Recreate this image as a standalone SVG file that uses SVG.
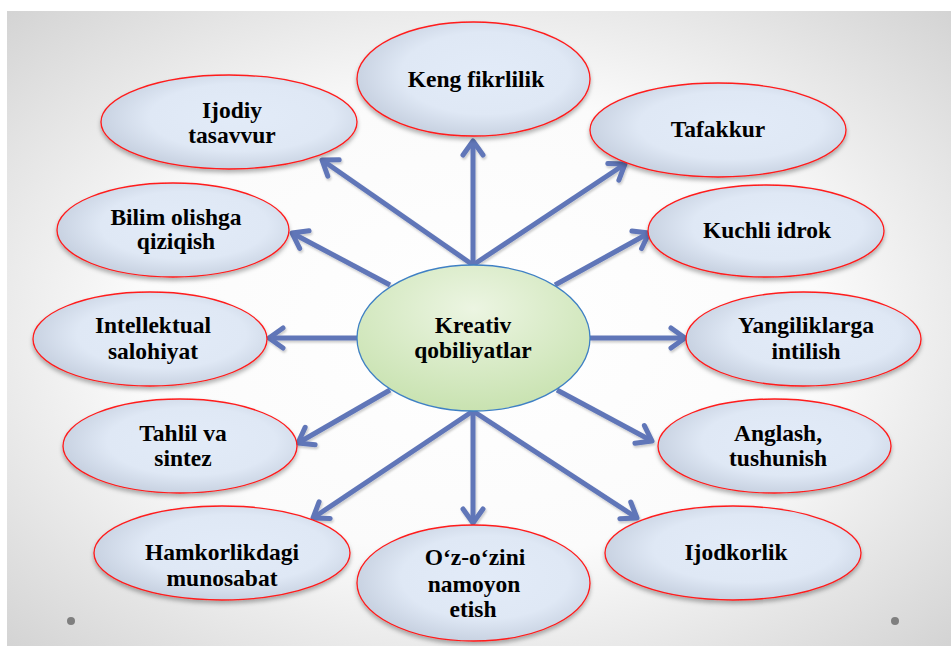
<svg xmlns="http://www.w3.org/2000/svg" width="951" height="646" viewBox="0 0 951 646">
<defs>
<radialGradient id="bg" cx="0.5" cy="0.5" r="0.72">
<stop offset="0" stop-color="#ffffff"/>
<stop offset="0.5" stop-color="#fbfbfb"/>
<stop offset="1" stop-color="#d2d2d2"/>
</radialGradient>
<radialGradient id="nodeFill" cx="0.55" cy="0.45" r="0.6">
<stop offset="0" stop-color="#e2ebf8"/>
<stop offset="0.6" stop-color="#dfe8f5"/>
<stop offset="1" stop-color="#c3cddd"/>
</radialGradient>
<radialGradient id="centerFill" cx="0.5" cy="0.3" r="0.75">
<stop offset="0" stop-color="#ecf5e2"/>
<stop offset="1" stop-color="#c6e1ad"/>
</radialGradient>
<filter id="shadow" x="-10%" y="-10%" width="120%" height="130%">
<feDropShadow dx="0" dy="3" stdDeviation="2" flood-color="#000" flood-opacity="0.3"/>
</filter>
<filter id="lshadow" x="-10%" y="-10%" width="120%" height="120%">
<feDropShadow dx="1" dy="2" stdDeviation="1.2" flood-color="#000" flood-opacity="0.2"/>
</filter>
<marker id="arrow" markerUnits="userSpaceOnUse" markerWidth="40" markerHeight="40" refX="0" refY="0" viewBox="-20 -20 40 40" orient="auto">
<path d="M -14 -10 L 0 0 L -14 10" fill="none" stroke="#6076b8" stroke-width="5" stroke-linecap="round" stroke-linejoin="round"/>
</marker>
</defs>
<style>
.node ellipse { fill: url(#nodeFill); stroke: #ff1a1a; stroke-width: 1.3; filter: url(#shadow); }
.center ellipse { fill: url(#centerFill); stroke: #3f80c4; stroke-width: 1.3; }
.t { font-weight: bold; font-size: 23.5px; fill: #000; text-anchor: middle; }
.conn line { stroke: #6076b8; stroke-width: 5; marker-end: url(#arrow); }
</style>
<rect x="0" y="0" width="951" height="646" fill="#ffffff"/>
<rect x="7" y="11" width="944" height="635" fill="url(#bg)"/>
<circle cx="71" cy="621" r="4" fill="#7f7f7f"/>
<circle cx="895" cy="621" r="4" fill="#7f7f7f"/>

<g id="connectors" class="conn" filter="url(#lshadow)">
<line x1="473" y1="265" x2="473" y2="141"/>
<line x1="473" y1="265" x2="625" y2="164"/>
<line x1="473" y1="265" x2="322" y2="160"/>
<line x1="390" y1="285" x2="292" y2="233"/>
<line x1="555" y1="285" x2="649" y2="233"/>
<line x1="357" y1="338" x2="269" y2="338"/>
<line x1="590" y1="338" x2="685" y2="338"/>
<line x1="390" y1="390" x2="298" y2="443"/>
<line x1="557" y1="390" x2="652" y2="441"/>
<line x1="473" y1="411" x2="313" y2="518"/>
<line x1="473" y1="411" x2="473" y2="523"/>
<line x1="473" y1="411" x2="637" y2="518"/>
</g>

<g font-family="'Liberation Serif', 'Times New Roman', 'DejaVu Serif', serif">
<g id="center" class="center">
<ellipse cx="473.5" cy="338" rx="116.5" ry="73"/>
<text class="t" x="473" y="333">Kreativ</text>
<text class="t" x="473" y="358">qobiliyatlar</text>
</g>

<g id="keng" class="node">
<ellipse cx="473.5" cy="79" rx="116.5" ry="57"/>
<text class="t" x="476" y="87">Keng fikrlilik</text>
</g>
<g id="tafakkur" class="node">
<ellipse cx="718" cy="130" rx="128" ry="47"/>
<text class="t" x="718" y="137">Tafakkur</text>
</g>
<g id="kuchli" class="node">
<ellipse cx="766" cy="231" rx="118" ry="46"/>
<text class="t" x="767" y="238">Kuchli idrok</text>
</g>
<g id="yangiliklarga" class="node">
<ellipse cx="803.5" cy="339" rx="117.5" ry="47"/>
<text class="t" x="806" y="333">Yangiliklarga</text>
<text class="t" x="806" y="359">intilish</text>
</g>
<g id="anglash" class="node">
<ellipse cx="774.5" cy="446" rx="116.5" ry="47"/>
<text class="t" x="778" y="441">Anglash,</text>
<text class="t" x="778" y="466">tushunish</text>
</g>
<g id="ijodkorlik" class="node">
<ellipse cx="733" cy="553" rx="128" ry="47"/>
<text class="t" x="736" y="560">Ijodkorlik</text>
</g>
<g id="ozozini" class="node">
<ellipse cx="473.5" cy="583" rx="116.5" ry="58"/>
<text class="t" x="475" y="565">O‘z-o‘zini</text>
<text class="t" x="474" y="592">namoyon</text>
<text class="t" x="473" y="617">etish</text>
</g>
<g id="hamkorlik" class="node">
<ellipse cx="222" cy="553" rx="128" ry="47"/>
<text class="t" x="222" y="560">Hamkorlikdagi</text>
<text class="t" x="222" y="586">munosabat</text>
</g>
<g id="tahlil" class="node">
<ellipse cx="180" cy="446" rx="117" ry="47"/>
<text class="t" x="183" y="441">Tahlil va</text>
<text class="t" x="183" y="466">sintez</text>
</g>
<g id="intellektual" class="node">
<ellipse cx="150" cy="339" rx="117" ry="47"/>
<text class="t" x="153" y="333">Intellektual</text>
<text class="t" x="153" y="359">salohiyat</text>
</g>
<g id="bilim" class="node">
<ellipse cx="173" cy="230" rx="116" ry="47"/>
<text class="t" x="176" y="225">Bilim olishga</text>
<text class="t" x="176" y="249">qiziqish</text>
</g>
<g id="ijodiy" class="node">
<ellipse cx="229" cy="122" rx="128" ry="47"/>
<text class="t" x="232" y="118">Ijodiy</text>
<text class="t" x="232" y="143">tasavvur</text>
</g>
</g>
</svg>
